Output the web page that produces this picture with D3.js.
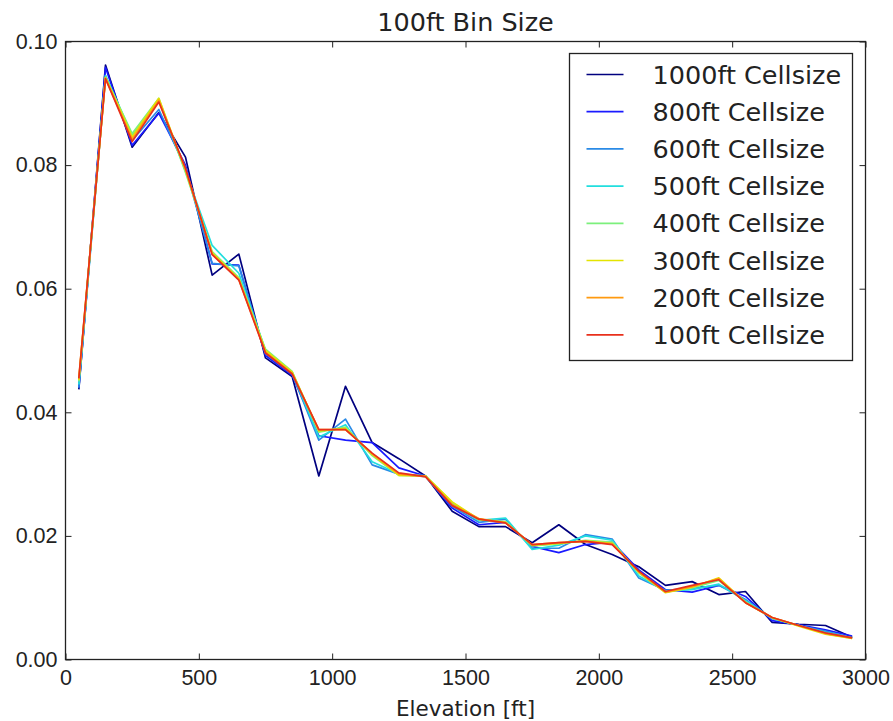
<!DOCTYPE html>
<html>
<head>
<meta charset="utf-8">
<script src="https://cdn.jsdelivr.net/npm/d3@7"></script>
<style>
  body { margin: 0; background: #fff; }
  svg { display: block; font-family: "DejaVu Sans", sans-serif; }
  .axis path { display: none; }
  .axis line { stroke: #222; stroke-width: 1; }
  .axis text { font-size: 21.5px; fill: #222; }
</style>
</head>
<body>
<div id="chart"></div>
<script>
// bin centres (ft)
var elevation = [50, 150, 250, 350, 450, 550, 650, 750, 850, 950, 1050, 1150, 1250, 1350, 1450,
  1550, 1650, 1750, 1850, 1950, 2050, 2150, 2250, 2350, 2450, 2550, 2650, 2750, 2850, 2950];

var cell1000 = [0.0437, 0.0962, 0.0829, 0.0885, 0.0813, 0.0622, 0.0656, 0.0488, 0.0458, 0.0297, 0.0442, 0.0351, 0.0325, 0.0297, 0.0240,
  0.0215, 0.0215, 0.0189, 0.0218, 0.0186, 0.0170, 0.0150, 0.0120, 0.0126, 0.0105, 0.0110, 0.0060, 0.0057, 0.0055, 0.0036];
var cell800 = [0.0440, 0.0958, 0.0832, 0.0884, 0.0800, 0.0640, 0.0638, 0.0492, 0.0460, 0.0362, 0.0355, 0.0351, 0.0310, 0.0297, 0.0245,
  0.0218, 0.0222, 0.0183, 0.0173, 0.0186, 0.0190, 0.0145, 0.0113, 0.0109, 0.0120, 0.0102, 0.0063, 0.0056, 0.0048, 0.0038];
var cell600 = [0.0440, 0.0945, 0.0840, 0.0890, 0.0795, 0.0641, 0.0637, 0.0495, 0.0462, 0.0355, 0.0389, 0.0315, 0.0300, 0.0296, 0.0248,
  0.0222, 0.0227, 0.0180, 0.0180, 0.0202, 0.0195, 0.0132, 0.0112, 0.0115, 0.0120, 0.0097, 0.0066, 0.0055, 0.0046, 0.0035];
var cell500 = [0.0445, 0.0945, 0.0848, 0.0905, 0.0790, 0.0670, 0.0625, 0.0500, 0.0465, 0.0360, 0.0380, 0.0320, 0.0300, 0.0297, 0.0252,
  0.0225, 0.0229, 0.0178, 0.0185, 0.0200, 0.0193, 0.0135, 0.0111, 0.0113, 0.0122, 0.0095, 0.0067, 0.0055, 0.0044, 0.0035];
var cell400 = [0.0450, 0.0942, 0.0851, 0.0908, 0.0788, 0.0660, 0.0618, 0.0502, 0.0466, 0.0368, 0.0376, 0.0330, 0.0298, 0.0297, 0.0254,
  0.0226, 0.0223, 0.0184, 0.0187, 0.0193, 0.0190, 0.0140, 0.0109, 0.0116, 0.0128, 0.0093, 0.0067, 0.0055, 0.0042, 0.0034];
var cell300 = [0.0452, 0.0942, 0.0846, 0.0908, 0.0792, 0.0658, 0.0616, 0.0500, 0.0465, 0.0370, 0.0374, 0.0332, 0.0298, 0.0297, 0.0255,
  0.0227, 0.0222, 0.0185, 0.0188, 0.0192, 0.0188, 0.0141, 0.0108, 0.0117, 0.0132, 0.0092, 0.0068, 0.0054, 0.0041, 0.0034];
var cell200 = [0.0455, 0.0940, 0.0842, 0.0905, 0.0793, 0.0656, 0.0615, 0.0497, 0.0463, 0.0372, 0.0372, 0.0333, 0.0300, 0.0296, 0.0251,
  0.0228, 0.0221, 0.0186, 0.0189, 0.0191, 0.0187, 0.0142, 0.0109, 0.0118, 0.0131, 0.0092, 0.0068, 0.0055, 0.0042, 0.0035];
var cell100 = [0.0455, 0.0940, 0.0838, 0.0902, 0.0795, 0.0655, 0.0614, 0.0496, 0.0462, 0.0372, 0.0372, 0.0334, 0.0302, 0.0296, 0.0249,
  0.0227, 0.0221, 0.0186, 0.0189, 0.0191, 0.0186, 0.0143, 0.0110, 0.0120, 0.0129, 0.0092, 0.0068, 0.0055, 0.0043, 0.0035];

var labels = ["1000ft Cellsize", "800ft Cellsize", "600ft Cellsize", "500ft Cellsize",
  "400ft Cellsize", "300ft Cellsize", "200ft Cellsize", "100ft Cellsize"];
var values = [cell1000, cell800, cell600, cell500, cell400, cell300, cell200, cell100];
var colors = ["#00007f", "#1a1aff", "#2a8ae6", "#22dede", "#7cf07c", "#e4e400", "#ff9a10", "#e8301c"];

var xTicks = [0, 500, 1000, 1500, 2000, 2500, 3000];
var yTicks = [0, 0.02, 0.04, 0.06, 0.08, 0.10];

var W = 893, H = 721;
var margin = {left: 65.5, right: 27.5, top: 41.5, bottom: 61.5};

var svg = d3.select("#chart").append("svg").attr("width", W).attr("height", H);

var x = d3.scaleLinear().domain([0, 3000]).range([margin.left, W - margin.right]);
var y = d3.scaleLinear().domain([0, 0.10]).range([H - margin.bottom, margin.top]);

// axes, ticks pointing inward like matplotlib classic
svg.append("g").attr("class", "axis")
  .attr("transform", "translate(0," + y(0) + ")")
  .call(d3.axisBottom(x).tickValues(xTicks).tickFormat(d3.format("d")).tickSizeInner(-6).tickPadding(10));
svg.append("g").attr("class", "axis")
  .attr("transform", "translate(0," + y(0.10) + ")")
  .call(d3.axisTop(x).tickValues(xTicks).tickSizeInner(-6).tickFormat(""));
svg.append("g").attr("class", "axis")
  .attr("transform", "translate(" + x(0) + ",0)")
  .call(d3.axisLeft(y).tickValues(yTicks).tickFormat(d3.format(".2f")).tickSizeInner(-6).tickPadding(8));
svg.append("g").attr("class", "axis")
  .attr("transform", "translate(" + x(3000) + ",0)")
  .call(d3.axisRight(y).tickValues(yTicks).tickSizeInner(-6).tickFormat(""));

var line = d3.line()
  .x((d, i) => x(elevation[i]))
  .y(d => y(d));

svg.append("g").selectAll("path")
  .data(values)
  .join("path")
  .attr("fill", "none")
  .attr("stroke", (d, i) => colors[i])
  .attr("stroke-width", 1.7)
  .attr("stroke-linejoin", "round")
  .attr("d", line);

// frame
svg.append("rect")
  .attr("x", x(0)).attr("y", y(0.10))
  .attr("width", x(3000) - x(0)).attr("height", y(0) - y(0.10))
  .attr("fill", "none").attr("stroke", "#222").attr("stroke-width", 1.3);

svg.append("text")
  .attr("x", (x(0) + x(3000)) / 2).attr("y", 31)
  .attr("text-anchor", "middle").attr("font-size", 25.5).attr("fill", "#222")
  .text("100ft Bin Size");

svg.append("text")
  .attr("x", (x(0) + x(3000)) / 2).attr("y", 716)
  .attr("text-anchor", "middle").attr("font-size", 21.5).attr("fill", "#222")
  .text("Elevation [ft]");

// legend
var leg = svg.append("g").attr("transform", "translate(569.5,53.5)");
leg.append("rect").attr("width", 283).attr("height", 307)
  .attr("fill", "#fff").attr("stroke", "#222").attr("stroke-width", 1.3);
var rows = leg.selectAll("g.row").data(labels).join("g").attr("class", "row")
  .attr("transform", (d, i) => "translate(0," + (21 + i * 37.2) + ")");
rows.append("line").attr("x1", 17).attr("x2", 54)
  .attr("stroke", (d, i) => colors[i]).attr("stroke-width", 1.7);
rows.append("text").attr("x", 83).attr("dy", "0.36em")
  .attr("font-size", 25.5).attr("fill", "#222")
  .text(d => d);
</script>
</body>
</html>
